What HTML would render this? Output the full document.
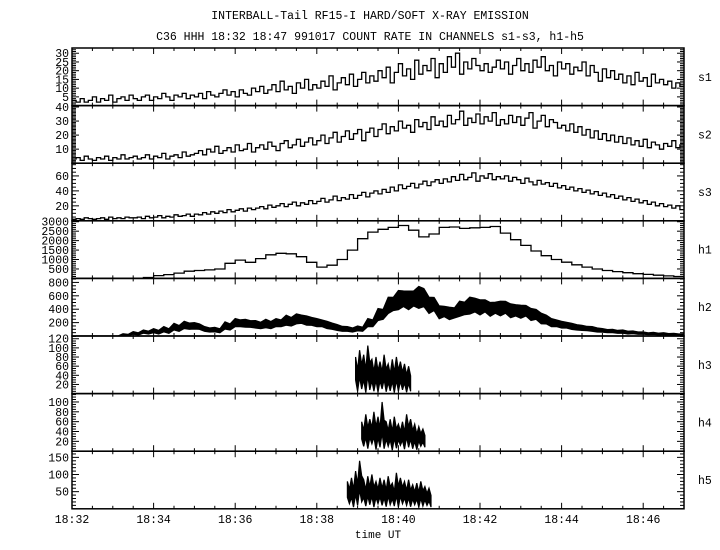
<!DOCTYPE html>
<html><head><meta charset="utf-8"><style>
html,body{margin:0;padding:0;background:#fff;}
svg{display:block;font-family:"Liberation Mono",monospace;}
</style></head><body>
<svg id="c" width="720" height="550" viewBox="0 0 720 550">
<text x="370" y="19" font-size="11.5" text-anchor="middle">INTERBALL-Tail RF15-I HARD/SOFT X-RAY EMISSION</text>
<text x="370" y="40" font-size="11.5" text-anchor="middle">C36 HHH 18:32 18:47 991017  COUNT RATE IN CHANNELS s1-s3, h1-h5</text>
<text x="378" y="538" font-size="11" text-anchor="middle">time UT</text>
</svg>
<script>
// ---- data (time in minutes after 18:32) ----
const xTickLabels = ["18:32","18:34","18:36","18:38","18:40","18:42","18:44","18:46"];
const panelNames = ["s1","s2","s3","h1","h2","h3","h4","h5"];
const s1Values = [3,2,4,2,3,5,2,4,3,6,2,4,5,3,6,
4,3,5,6,3,5,4,7,5,3,6,5,7,4,6,
5,7,4,8,6,5,7,9,6,8,5,9,7,6,10,
8,11,7,9,12,8,14,9,11,7,13,10,15,9,12,
10,14,11,17,9,13,16,12,18,11,15,19,13,17,14,
20,16,22,13,19,24,17,21,15,26,18,23,20,27,16,
24,19,28,22,30,18,25,21,27,23,20,24,19,22,26,
21,25,18,23,27,20,24,19,26,22,28,20,23,17,25,
21,24,18,22,20,25,17,23,19,14,21,16,20,15,18,
13,17,12,19,14,16,11,18,13,15,12,14,10,13,11];
const s2Values = [3,4,2,5,3,2,4,3,5,2,4,3,6,3,4,
5,3,4,6,3,5,4,7,3,5,6,4,8,5,6,
7,9,6,10,8,12,7,9,11,8,13,9,10,14,8,
11,13,10,15,12,9,14,16,11,13,17,12,15,18,13,
16,20,14,18,22,15,19,23,17,21,24,16,22,25,19,
24,28,21,26,23,30,25,27,22,31,26,29,24,33,27,
30,26,34,28,31,37,27,32,29,35,28,33,30,36,27,
31,28,34,29,33,27,32,36,25,30,34,26,31,29,25,
27,23,28,22,26,20,24,18,23,17,21,16,20,15,19,
14,18,13,16,12,17,11,15,13,10,14,12,16,11,13];
const s3Values = [2,3,2,4,3,2,3,4,2,5,3,4,3,5,4,
4,5,3,6,4,5,7,4,6,5,8,6,7,9,6,
9,8,11,9,12,10,13,11,15,12,14,16,13,17,15,
17,19,16,21,18,20,23,19,22,25,20,24,22,27,23,
26,30,25,28,33,27,31,29,35,30,34,38,32,37,40,
36,42,38,45,40,48,43,46,50,44,49,53,47,52,55,
50,56,52,59,54,62,55,58,64,53,60,57,63,55,59,
56,60,53,58,55,50,57,52,48,54,49,51,46,50,44,
47,42,45,40,43,38,41,36,39,34,37,32,35,30,33,
28,31,26,29,24,27,22,25,20,23,19,21,17,20,15];
const h1Values = [0,0,0,0,0,0,0,50,150,200,280,380,420,450,500,800,970,850,1050,1250,1330,1300,1150,850,600,700,1000,1500,2100,2450,2600,2700,2800,2550,2200,2350,2700,2720,2650,2680,2700,2750,2400,2050,1750,1450,1200,1000,860,720,600,500,420,360,300,250,210,170,130,100,70];
const h2Mean = [0,0,0,0,0,20,40,60, 70,90,130,160, 150,100,90,150, 200,190,170,180, 200,230,260,230, 200,160,120,100, 110,200,330,480, 560,560,590,480, 370,350,420,470, 450,420,430,390, 380,330,260,200, 170,140,120,100, 80,70,60,50, 40,35,30,25,20];
const h2Spread = [0,0,0,0,0,15,25,30, 40,50,60,60, 50,40,40,60, 60,60,60,70, 60,80,70,70, 60,60,50,40, 40,60,80,100, 120,110,150,100, 80,80,100,110, 90,80,90,90, 80,80,80,60, 50,50,40,40, 30,30,30,25, 20,20,20,15,15];
const h3Start = 6.95, h4Start = 7.1, h5Start = 6.75;
const h3Hi = [80,95,85,105,75,80,70,85,65,75,80,70,65,60];
const h3Lo = [5,10,2,8,5,3,10,4,6,2,5,8,3,5];
const h4Hi = [60,75,65,80,70,100,60,65,70,55,60,75,65,55,50,45];
const h4Lo = [10,5,15,3,8,5,10,2,6,12,4,8,5,3,10,8];
const h5Hi = [80,90,110,140,85,95,100,80,90,85,95,75,105,90,80,85,70,75,80,65,60];
const h5Lo = [15,5,10,20,8,12,5,15,10,6,12,8,5,15,10,6,12,5,8,10,5];
const yMax = [33,41,77,3050,860,126,117,168];
const yLabels = [[5,10,15,20,25,30],[10,20,30,40],[20,40,60],[500,1000,1500,2000,2500,3000],[200,400,600,800],[20,40,60,80,100,120],[20,40,60,80,100],[50,100,150]];
const yMinor = [1,1,5,100,50,5,5,10];

// ---- layout ----
const NS="http://www.w3.org/2000/svg";
const svg=document.getElementById('c');
const X0=72,X1=684,TOP=48,PH=57.6;
const xs=t=>X0+(t/15)*(X1-X0);
function pTop(i){return TOP+i*PH;}
function ys(i,v){return pTop(i)+PH-(v/yMax[i])*PH;}
function mk(tag,attrs,parent){const e=document.createElementNS(NS,tag);for(const k in attrs)e.setAttribute(k,attrs[k]);(parent||svg).appendChild(e);return e;}
const defs=mk('defs',{});
for(let i=0;i<8;i++){const cp=mk('clipPath',{id:'cp'+i},defs);mk('rect',{x:X0,y:pTop(i),width:X1-X0,height:PH},cp);}

function steps(i,vals,dt,name){
  let d="";
  vals.forEach((v,k)=>{const xa=xs(k*dt),xb=xs((k+1)*dt),y=ys(i,v);d+=(k?"L":"M")+xa.toFixed(1)+","+y.toFixed(1)+"L"+xb.toFixed(1)+","+y.toFixed(1);});
  const p=mk('path',{d:d,fill:'none',stroke:'#000','stroke-width':1.3,'clip-path':'url(#cp'+i+')'});
  
  
}
function band(i,t0,dt,hi,lo,name){
  let pts=[];
  hi.forEach((v,k)=>{pts.push([xs(t0+k*dt),ys(i,v)]);pts.push([xs(t0+(k+0.5)*dt),ys(i,(v+lo[k])*0.6)]);});
  for(let k=lo.length-1;k>=0;k--){pts.push([xs(t0+(k+0.5)*dt),ys(i,lo[k])]);pts.push([xs(t0+k*dt),ys(i,(hi[k]+lo[k])*0.35)]);}
  const p=mk('polygon',{points:pts.map(p=>p[0].toFixed(1)+","+p[1].toFixed(1)).join(" "),fill:'#000',stroke:'#000','stroke-width':1.2,'clip-path':'url(#cp'+i+')'});
  
  
}

for(let i=0;i<8;i++){
  const y0=pTop(i),y1=y0+PH;
  const fr=mk('rect',{x:X0,y:y0,width:X1-X0,height:PH,fill:'none',stroke:'#000','stroke-width':1.5});
  
  
  for(let v=yMinor[i];v<yMax[i];v+=yMinor[i]){
    const major=yLabels[i].includes(v);const L=major?7:4;const y=ys(i,v);
    mk('line',{x1:X0,y1:y,x2:X0+L,y2:y,stroke:'#000','stroke-width':1});
    mk('line',{x1:X1,y1:y,x2:X1-L,y2:y,stroke:'#000','stroke-width':1});
  }
  yLabels[i].forEach(v=>{
    const t=mk('text',{x:69,y:ys(i,v)+4,'font-size':11.5,'text-anchor':'end'});
    t.textContent=v;
    
    
  });
  const nl=mk('text',{x:698,y:y0+PH/2+4,'font-size':11.5});
  nl.textContent=panelNames[i];
  
  
  for(let t=0.5;t<15;t+=0.5){
    const major=(t%2===0);const L=major?6:3;const x=xs(t);
    mk('line',{x1:x,y1:y0,x2:x,y2:y0+L,stroke:'#000','stroke-width':1});
    mk('line',{x1:x,y1:y1,x2:x,y2:y1-L,stroke:'#000','stroke-width':1});
  }
}
xTickLabels.forEach((s,k)=>{
  const t=mk('text',{x:xs(k*2),y:523,'font-size':11.5,'text-anchor':'middle'});
  t.textContent=s;
  
  
});

steps(0,s1Values,0.1,'series-s1');
steps(1,s2Values,0.1,'series-s2');
steps(2,s3Values,0.1,'series-s3');
steps(3,h1Values,0.25,'series-h1');
band(4,0,0.25,h2Mean.map((m,k)=>m+h2Spread[k]),h2Mean.map((m,k)=>Math.max(0,m-h2Spread[k])),'series-h2');
band(5,h3Start,0.1,h3Hi,h3Lo,'series-h3');
band(6,h4Start,0.1,h4Hi,h4Lo,'series-h4');
band(7,h5Start,0.1,h5Hi,h5Lo,'series-h5');
</script>
</body></html>
